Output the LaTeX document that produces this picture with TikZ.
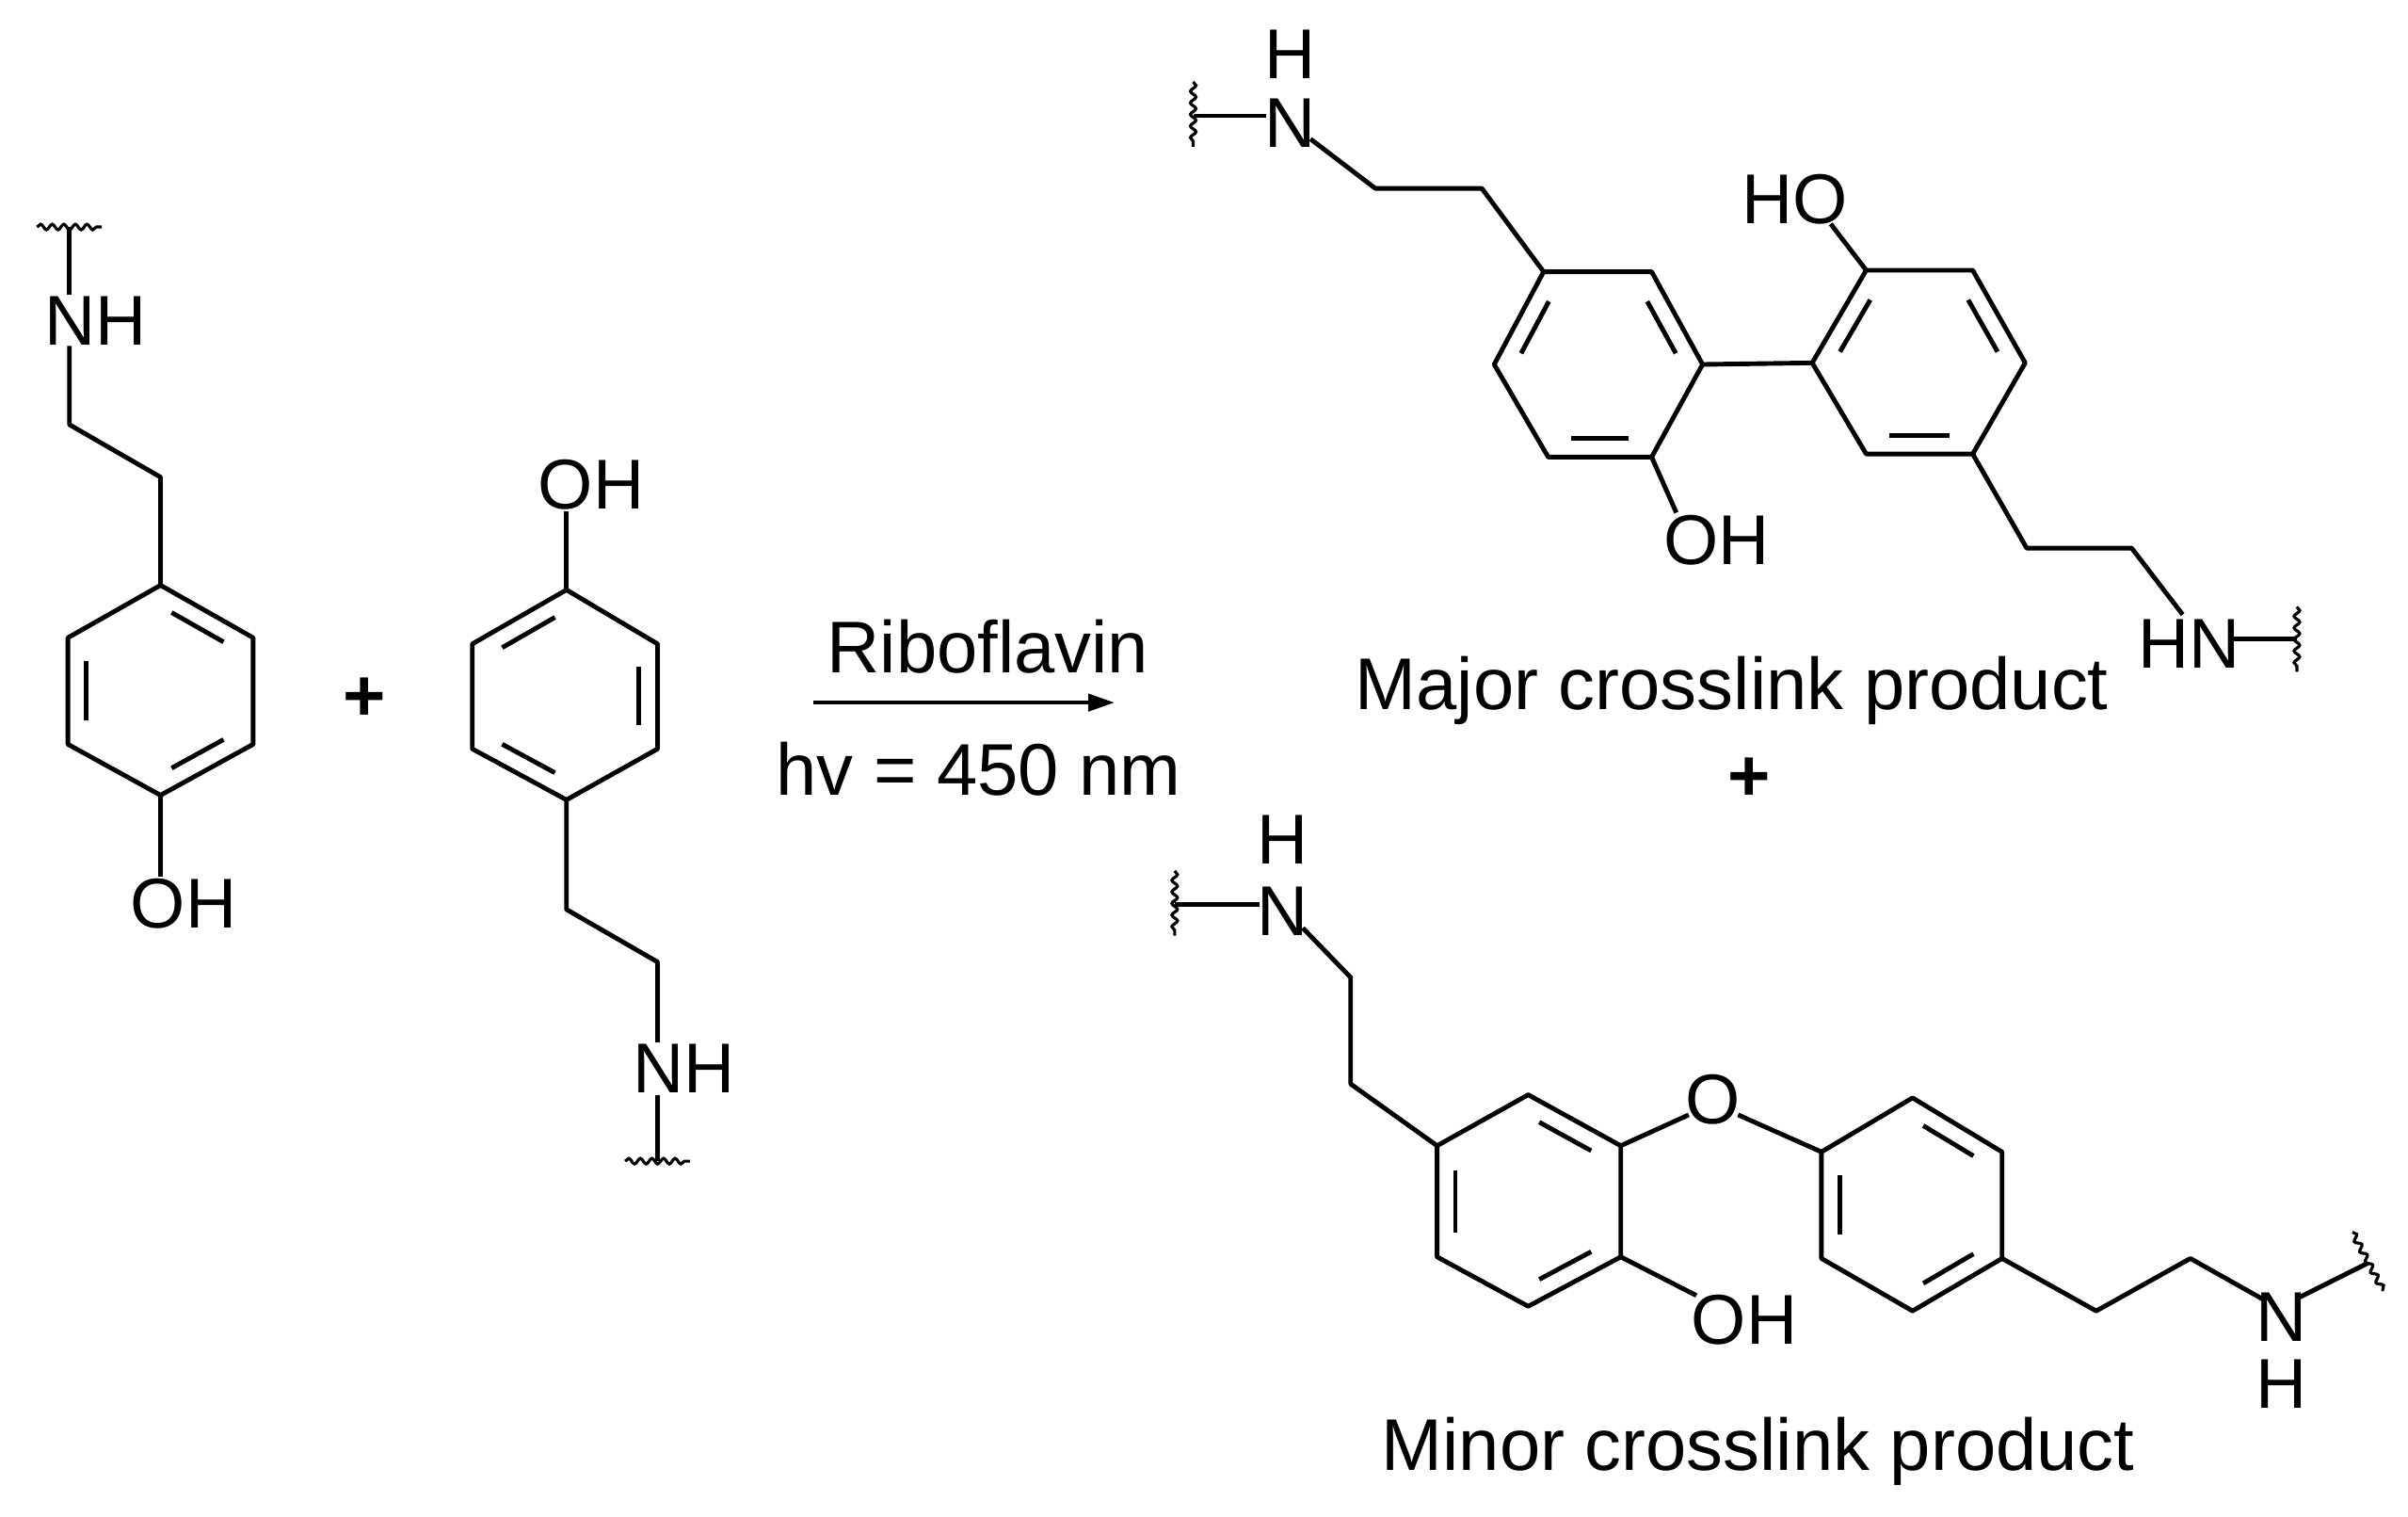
\documentclass[tikz,border=0pt]{standalone}
\usepackage{fontspec}
\setmainfont{Liberation Sans}
\usetikzlibrary{calc,arrows.meta,decorations.pathmorphing}
\newcommand\dbl[3]{\path ($(#1)!0.15!(#2)$) coordinate (dA) ($(#1)!0.85!(#2)$) coordinate (dB); \draw[bond] ($(dA)!0.2!(#3)$) -- ($(dB)!0.2!(#3)$);}
\begin{document}
\begin{tikzpicture}[x=0.1mm,y=-0.1mm,
  bond/.style={line width=0.85pt,line join=round},
  wavy/.style={line width=0.55pt,decorate,decoration={snake,amplitude=0.18mm,segment length=0.75mm}},
  atom/.style={inner sep=0pt,font=\fontsize{13}{15}\selectfont},
  lbl/.style={inner sep=0pt,font=\fontsize{13.5}{16}\selectfont}]
\useasboundingbox (0,0) rectangle (1560,982);
% ---------- reactant 1 ----------
\coordinate (w1) at (45,147); \coordinate (w1a) at (24,147); \coordinate (w1b) at (66,147);
\draw[wavy] (w1a) -- (w1b);
\node[atom] (nh1) at (62,208) {NH};
\coordinate (n1t) at (45,191); \coordinate (n1b) at (45,224);
\coordinate (c1a) at (45,275); \coordinate (c1b) at (104,309);
\coordinate (r1a) at (104,379); \coordinate (r1b) at (164,413); \coordinate (r1c) at (164,482);
\coordinate (r1d) at (104,515); \coordinate (r1e) at (44,482); \coordinate (r1f) at (44,413);
\coordinate (r1o) at (104,447); \coordinate (o1b) at (104,568);
\node[atom] (oh1) at (119,585) {OH};
\draw[bond] (w1) -- (n1t);
\draw[bond] (n1b) -- (c1a) -- (c1b) -- (r1a);
\draw[bond] (r1a) -- (r1b) -- (r1c) -- (r1d) -- (r1e) -- (r1f) -- cycle;
\draw[bond] (r1d) -- (o1b);
\dbl{r1a}{r1b}{r1o}\dbl{r1e}{r1f}{r1o}\dbl{r1c}{r1d}{r1o}
\node[lbl] (plus1) at (236,453) {\textbf{+}};
% ---------- reactant 2 ----------
\node[atom] (oh2) at (383,314) {OH};
\coordinate (o2b) at (367,331);
\coordinate (r2a) at (367,382); \coordinate (r2b) at (426,417); \coordinate (r2c) at (426,485);
\coordinate (r2d) at (367,518); \coordinate (r2e) at (306,485); \coordinate (r2f) at (306,417);
\coordinate (r2o) at (366,450);
\coordinate (c2a) at (367,589); \coordinate (c2b) at (426,623); \coordinate (c2c) at (426,675);
\node[atom] (nh2) at (443,692) {NH};
\coordinate (n2b) at (426,709); \coordinate (w2) at (426,752);
\draw[bond] (o2b) -- (r2a);
\draw[bond] (r2a) -- (r2b) -- (r2c) -- (r2d) -- (r2e) -- (r2f) -- cycle;
\draw[bond] (r2d) -- (c2a) -- (c2b) -- (c2c);
\draw[bond] (n2b) -- (w2);
\draw[wavy] (405,752) -- (447,752);
\dbl{r2f}{r2a}{r2o}\dbl{r2b}{r2c}{r2o}\dbl{r2d}{r2e}{r2o}
% ---------- arrow ----------
\coordinate (arA) at (527,455); \coordinate (arB) at (722,455);
\draw[line width=0.75pt,-{Triangle[length=1.7mm,width=1.1mm]}] (arA) -- (arB);
\node[lbl] (rib) at (640,419) {Riboflavin};
\node[lbl] (hv) at (634,498) {hv = 450 nm};
% ---------- major product ----------
\draw[wavy] (773,53) -- (773,95);
\coordinate (mw1) at (773,75); \coordinate (mn1) at (820,75);
\node[atom] (mh1) at (836,35) {H};
\node[atom] (mN1) at (836,80) {N};
\coordinate (mn1b) at (849,90); \coordinate (mc1) at (891,122); \coordinate (mc2) at (960,122);
\coordinate (ra1) at (1000,176); \coordinate (ra2) at (1070,176); \coordinate (ra3) at (1103,236);
\coordinate (ra4) at (1070,296); \coordinate (ra5) at (1003,296); \coordinate (ra6) at (968,236);
\coordinate (rao) at (1036,236);
\coordinate (rb1) at (1174,235); \coordinate (rb2) at (1209,175); \coordinate (rb3) at (1278,175);
\coordinate (rb4) at (1312,235); \coordinate (rb5) at (1278,294); \coordinate (rb6) at (1209,294);
\coordinate (rbo) at (1243,235);
\draw[bond] (mw1) -- (mn1);
\draw[bond] (mn1b) -- (mc1) -- (mc2) -- (ra1);
\draw[bond] (ra1) -- (ra2) -- (ra3) -- (ra4) -- (ra5) -- (ra6) -- cycle;
\draw[bond] (ra3) -- (rb1);
\draw[bond] (rb1) -- (rb2) -- (rb3) -- (rb4) -- (rb5) -- (rb6) -- cycle;
\dbl{ra6}{ra1}{rao}\dbl{ra2}{ra3}{rao}\dbl{ra4}{ra5}{rao}
\dbl{rb1}{rb2}{rbo}\dbl{rb3}{rb4}{rbo}\dbl{rb5}{rb6}{rbo}
\coordinate (moA) at (1086,332);
\node[atom] (moh1) at (1112,350) {OH};
\draw[bond] (ra4) -- (moA);
\coordinate (moB) at (1186,145);
\node[atom] (mho) at (1163,129) {HO};
\draw[bond] (rb2) -- (moB);
\coordinate (mc3) at (1313,355); \coordinate (mc4) at (1381,355); \coordinate (mc5) at (1414,398);
\node[atom] (mhn) at (1418,417) {HN};
\coordinate (mn2) at (1446,414); \coordinate (mw2) at (1488,414);
\draw[bond] (rb5) -- (mc3) -- (mc4) -- (mc5);
\draw[bond] (mn2) -- (mw2);
\draw[wavy] (1488,393) -- (1488,435);
\node[lbl] (major) at (1122,447) {Major crosslink product};
\node[lbl] (plus2) at (1133,505) {\textbf{+}};
% ---------- minor product ----------
\draw[wavy] (761,564) -- (761,606);
\coordinate (nw1) at (761,586); \coordinate (nn1) at (816,586);
\node[atom] (nh3) at (831,544) {H};
\node[atom] (nN1) at (831,590) {N};
\coordinate (nn1b) at (844,601); \coordinate (nc1) at (875,633); \coordinate (nc2) at (875,702);
\coordinate (rc1) at (931,742); \coordinate (rc2) at (990,709); \coordinate (rc3) at (1050,742);
\coordinate (rc4) at (1050,814); \coordinate (rc5) at (990,846); \coordinate (rc6) at (931,814);
\coordinate (rco) at (990,778);
\coordinate (rd1) at (1180,746); \coordinate (rd2) at (1239,711); \coordinate (rd3) at (1297,746);
\coordinate (rd4) at (1297,815); \coordinate (rd5) at (1239,849); \coordinate (rd6) at (1180,815);
\coordinate (rdo) at (1239,780);
\draw[bond] (nw1) -- (nn1);
\draw[bond] (nn1b) -- (nc1) -- (nc2) -- (rc1);
\draw[bond] (rc1) -- (rc2) -- (rc3) -- (rc4) -- (rc5) -- (rc6) -- cycle;
\draw[bond] (rd1) -- (rd2) -- (rd3) -- (rd4) -- (rd5) -- (rd6) -- cycle;
\dbl{rc1}{rc6}{rco}\dbl{rc2}{rc3}{rco}\dbl{rc4}{rc5}{rco}
\dbl{rd2}{rd3}{rdo}\dbl{rd6}{rd1}{rdo}\dbl{rd4}{rd5}{rdo}
\node[atom] (nO) at (1110,712) {O};
\coordinate (nOa) at (1094,722); \coordinate (nOb) at (1126,722);
\draw[bond] (rc3) -- (nOa); \draw[bond] (nOb) -- (rd1);
\coordinate (nohA) at (1099,839);
\node[atom] (noh) at (1130,855) {OH};
\draw[bond] (rc4) -- (nohA);
\coordinate (nc3) at (1358,849); \coordinate (nc4) at (1419,815); \coordinate (nc5) at (1467,842);
\node[atom] (nN2) at (1478,853) {N};
\node[atom] (nH2) at (1478,896) {H};
\coordinate (nn2) at (1490,840); \coordinate (nw2) at (1534,818);
\draw[bond] (rd4) -- (nc3) -- (nc4) -- (nc5);
\draw[bond] (nn2) -- (nw2);
\draw[wavy] (1524,798) -- (1544,836);
\node[lbl] (minor) at (1139,940) {Minor crosslink product};
\end{tikzpicture}
\end{document}
